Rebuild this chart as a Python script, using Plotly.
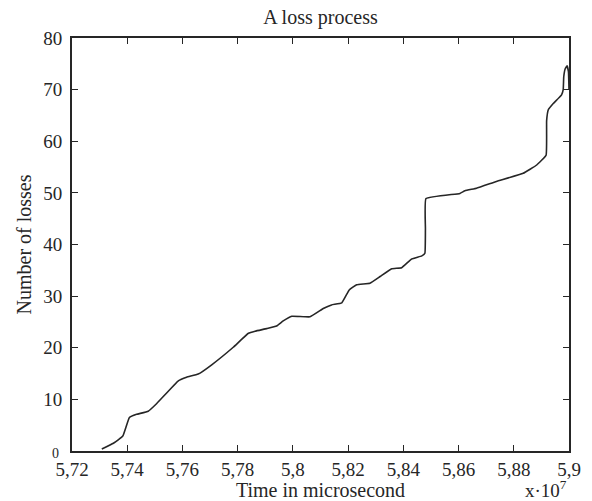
import plotly.graph_objects as go

# Time of each sample, in units of 10^7 microseconds
time_e7 = [5.7308, 5.7350, 5.7384, 5.7408, 5.7434, 5.7476, 5.7507, 5.7585, 5.7615,
           5.7657, 5.7706, 5.7784, 5.7839, 5.7863, 5.7905, 5.7941, 5.7965, 5.7996,
           5.8062, 5.8110, 5.8140, 5.8177, 5.8204, 5.8231, 5.8279, 5.8316, 5.8358,
           5.8394, 5.8430, 5.8467, 5.8478, 5.8480, 5.8482, 5.8605, 5.8623, 5.8665,
           5.8737, 5.8834, 5.8883, 5.8917, 5.8919, 5.8925, 5.8943, 5.8973, 5.8979,
           5.8981, 5.8986, 5.8993, 5.8998, 5.9000]
# Cumulative number of losses
losses = [0.4, 1.5, 2.9, 6.5, 7.1, 7.7, 9.2, 13.6, 14.3,
          14.9, 16.7, 20.1, 22.8, 23.2, 23.7, 24.2, 25.2, 26.1,
          26.0, 27.6, 28.3, 28.7, 31.2, 32.2, 32.5, 33.8, 35.3,
          35.5, 37.2, 37.8, 38.3, 43.0, 48.9, 49.9, 50.4, 50.9,
          52.2, 53.8, 55.4, 57.3, 64.0, 66.1, 67.3, 69.0, 70.0,
          72.5, 74.0, 74.6, 73.5, 70.0]

x_ticks = [5.72, 5.74, 5.76, 5.78, 5.80, 5.82, 5.84, 5.86, 5.88, 5.90]
x_tick_text = ["5,72", "5,74", "5,76", "5,78", "5,8", "5,82", "5,84", "5,86", "5,88", "5,9"]
y_ticks = [0, 10, 20, 30, 40, 50, 60, 70, 80]
# the origin label is drawn separately, smaller, beside the corner
y_tick_text = ["", "10", "20", "30", "40", "50", "60", "70", "80"]

serif = "Liberation Serif, Times New Roman, serif"
ink = "#262626"

fig = go.Figure()
fig.add_trace(go.Scatter(
    x=time_e7, y=losses, mode="lines",
    line=dict(color=ink, width=1.6, shape="spline", smoothing=0.3),
    showlegend=False, hoverinfo="skip",
))

axis_common = dict(
    showline=True, linecolor=ink, linewidth=2, mirror="ticks",
    ticks="inside", ticklen=6, tickwidth=1.2, tickcolor=ink,
    showgrid=False, zeroline=False, automargin=False,
    tickfont=dict(family=serif, size=19, color=ink),
)

fig.update_layout(
    width=592, height=501,
    margin=dict(l=72, r=23, t=38, b=50),
    paper_bgcolor="white", plot_bgcolor="white",
    title=dict(text="A loss process", x=(72 + 569) / 2 / 592, xanchor="center",
               y=1 - 17 / 501, yanchor="middle", yref="container",
               font=dict(family=serif, size=20, color=ink)),
    xaxis=dict(range=[5.72, 5.90], tickvals=x_ticks, ticktext=x_tick_text,
               title=dict(text="Time in microsecond", standoff=10,
                          font=dict(family=serif, size=20, color=ink)),
               **axis_common),
    yaxis=dict(range=[0, 80], tickvals=y_ticks, ticktext=y_tick_text,
               ticklabelstandoff=4,
               title=dict(text="Number of losses", standoff=6,
                          font=dict(family=serif, size=20, color=ink)),
               **axis_common),
    annotations=[
        dict(text="x·10<sup>7</sup>", xref="paper", yref="paper",
             x=1.0, y=-0.126, xanchor="right", yanchor="bottom",
             showarrow=False, font=dict(family=serif, size=19, color=ink)),
        dict(text=str(y_ticks[0]), xref="paper", yref="y",
             x=0, y=y_ticks[0], xanchor="right", yanchor="middle",
             xshift=-11, yshift=-2, showarrow=False,
             font=dict(family=serif, size=14, color=ink)),
    ],
)

fig.write_html("out.html")
